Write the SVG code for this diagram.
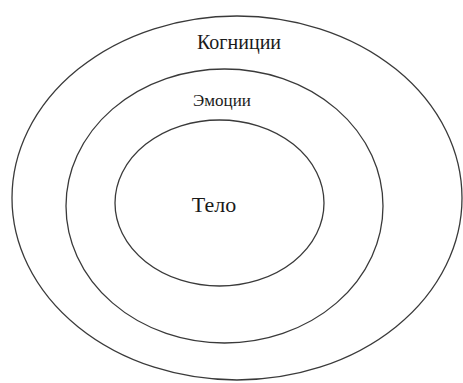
<svg xmlns="http://www.w3.org/2000/svg" width="463" height="383" viewBox="0 0 463 383">
<style>
.ring{fill:none;stroke:#3a3a3a;stroke-width:1.3}
.lbl{font-family:"Liberation Serif","Times New Roman",serif;fill:#1a1a1a;text-anchor:middle}
</style>
<rect width="463" height="383" fill="#ffffff"/>
<g id="cognitions">
<ellipse class="ring" cx="237" cy="198" rx="225" ry="182"/>
<text class="lbl" x="239" y="49" font-size="20">Когниции</text>
</g>
<g id="emotions">
<ellipse class="ring" cx="224.5" cy="206" rx="158.5" ry="137"/>
<text class="lbl" x="222" y="106" font-size="17">Эмоции</text>
</g>
<g id="body">
<ellipse class="ring" cx="219.5" cy="203" rx="104.5" ry="83"/>
<text class="lbl" x="214" y="212" font-size="22">Тело</text>
</g>
<g id="connectors"/>
</svg>
